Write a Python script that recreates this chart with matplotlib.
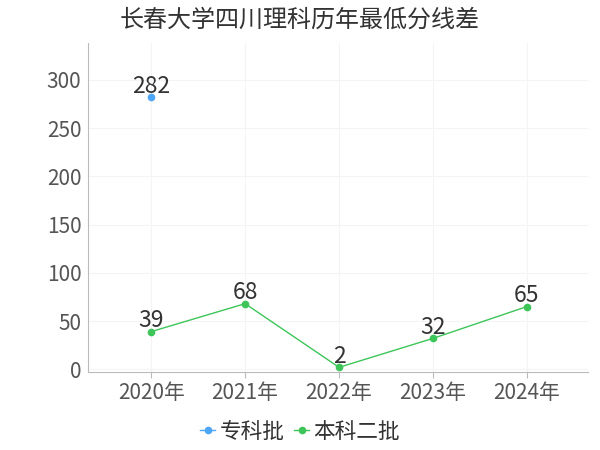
import matplotlib
matplotlib.use("Agg")
import matplotlib.pyplot as plt
import numpy as np

plt.rcParams['font.family'] = ['Noto Sans CJK SC', 'DejaVu Sans']

# 数据
years = ['2020年', '2021年', '2022年', '2023年', '2024年']
zhuanke = [282, None, None, None, None]      # 专科批
benke2 = [39, 68, 2, 32, 65]                 # 本科二批

fig = plt.figure(figsize=(6, 4.5), dpi=100)
ax = fig.add_axes([0.147, 0.173, 0.833, 0.731])

x = np.arange(len(years))
blue = '#4da6f5'
green = '#3ec55a'

zk = np.array([np.nan if v is None else v for v in zhuanke], dtype=float)
ax.plot(x, zk, color=blue, marker='o', markersize=4.5, linewidth=1, label='专科批')
ax.plot(x, benke2, color=green, marker='o', markersize=4.5, linewidth=1, label='本科二批')

# 数值标签
for xi, v in zip(x, zk):
    if not np.isnan(v):
        ax.annotate(f'{int(v)}', (xi, v), xytext=(0, 3), textcoords='offset points',
                    ha='center', va='baseline', fontsize=16.5, color='#333333')
for xi, v in zip(x, benke2):
    ax.annotate(f'{v}', (xi, v), xytext=(0, 3), textcoords='offset points',
                ha='center', va='baseline', fontsize=16.5, color='#333333')

ax.set_xticks(x)
ax.set_xticklabels(years)
ax.set_xlim(-0.67, 4.65)
ax.set_ylim(-3, 338)
ax.set_yticks([0, 50, 100, 150, 200, 250, 300])

ax.grid(True, color='#f4f4f4', linewidth=0.8)
ax.set_axisbelow(True)
for s in ['top', 'right']:
    ax.spines[s].set_visible(False)
for s in ['left', 'bottom']:
    ax.spines[s].set_color('#bbbbbb')
ax.tick_params(axis='y', length=0, labelsize=15, colors='#555555', pad=5)
ax.tick_params(axis='x', length=4, color='#bbbbbb', labelsize=15, labelcolor='#555555', pad=3)

fig.suptitle('长春大学四川理科历年最低分线差', fontsize=17.3, color='#333333', x=0.5, y=0.985)

ax.legend(loc='center', bbox_to_anchor=(0.5, 0.04), bbox_transform=fig.transFigure,
          ncol=2, frameon=False, fontsize=15.6, handlelength=0.7, handletextpad=0.2,
          columnspacing=0.45, labelcolor='#333333')

fig.savefig('out.png', dpi=100)
